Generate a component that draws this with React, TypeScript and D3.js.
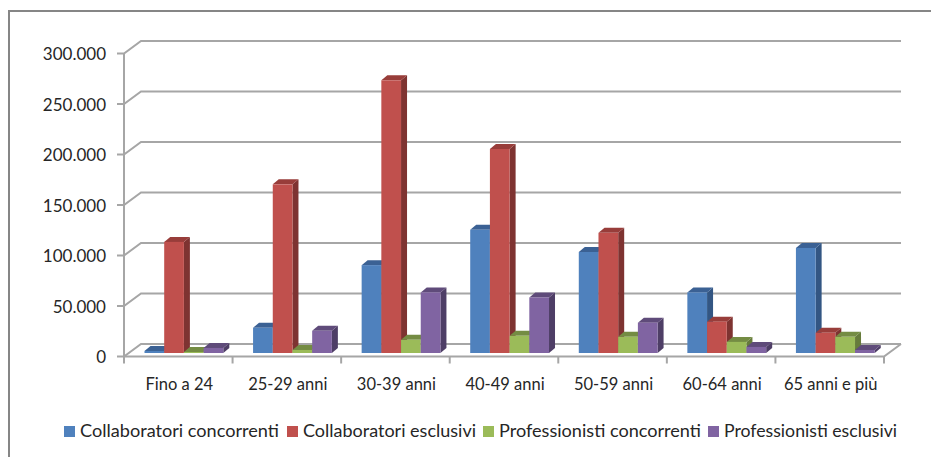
import * as d3 from 'd3';

const categories = ['Fino a 24', '25-29 anni', '30-39 anni', '40-49 anni', '50-59 anni', '60-64 anni', '65 anni e più'];
const seriesNames = ['Collaboratori concorrenti', 'Collaboratori esclusivi', 'Professionisti concorrenti', 'Professionisti esclusivi'];
const collabConcorrenti = [2000, 25000, 87000, 122000, 100000, 60000, 104000];
const collabEsclusivi = [110000, 167000, 270000, 202000, 119000, 31000, 20000];
const profConcorrenti = [1000, 3000, 13000, 17000, 16000, 11000, 16000];
const profEsclusivi = [5000, 22000, 60000, 55000, 30000, 6000, 3000];
const yTicks = [0, 50000, 100000, 150000, 200000, 250000, 300000];

const seriesValues = [collabConcorrenti, collabEsclusivi, profConcorrenti, profEsclusivi];
const faceColors = ['#4f81bd', '#c0504d', '#9bbb59', '#8064a2'];
const topColors = ['#3b6194', '#983d3a', '#748c43', '#5f4b7a'];
const sideColors = ['#335683', '#7e3331', '#667b3b', '#4e3e66'];

const fontFamily = "Lato, 'Liberation Sans', sans-serif";
const labelColor = '#262626';
const gridColor = '#a6a6a6';

// front edge of the floor and offset of the back wall
const frontLeft = 124;
const frontRight = 884;
const frontZero = 356.5;
const frontTop = 53.5;
const wallDx = 17;
const wallDy = -12.5;
// bars stand a little way in from the front edge of the floor
const barDy = -3.5;
const barDepthX = 6;
const barDepthY = -5;

const x = d3.scaleBand<string>().domain(categories).range([frontLeft, frontRight]);
const inner = d3.scaleBand<string>().domain(seriesNames).range([20.5, 99.3]);
const y = d3.scaleLinear().domain([0, 300000]).range([frontZero, frontTop]);

const numberFormat = (v: number) => (v === 0 ? '0' : d3.format(',')(v).replace(/,/g, '.'));

const legendX = [64, 287, 483, 708];
const legendLabelWidth = [199, 173, 202, 173];

export default function App() {
  return (
    <svg
      width={931}
      height={457}
      viewBox="0 0 931 457"
      style={{ position: 'absolute', left: 0, top: 0, background: '#fff', fontFamily }}
    >
      {/* outer frame: only top and left are in the picture */}
      <path d="M9,457 V11 H931" fill="none" stroke="#868686" strokeWidth={2} />

      {/* walls and gridlines */}
      <g fill="none" stroke={gridColor} strokeWidth={2}>
        {yTicks.map((t) => (
          <path
            key={t}
            d={`M${frontLeft - 7},${y(t)} H${frontLeft} L${frontLeft + wallDx},${y(t) + wallDy} H${frontRight + wallDx}`}
          />
        ))}
        <path d={`M${frontLeft},${y(0)} V${y(300000)}`} />
        <path d={`M${frontLeft},${y(0)} H${frontRight} L${frontRight + wallDx},${y(0) + wallDy}`} />
        {[...categories.map((c) => x(c)!), frontRight].map((px) => (
          <path key={px} d={`M${px},${y(0)} V${y(0) + 7}`} />
        ))}
      </g>

      {/* bars */}
      {categories.map((c, ci) =>
        seriesNames.map((s, si) => {
          const v = seriesValues[si][ci];
          const x0 = x(c)! + inner(s)!;
          const w = inner.bandwidth();
          const yTop = y(v) + barDy;
          const yBase = y(0) + barDy;
          return (
            <g key={`${c}-${s}`}>
              <path
                d={`M${x0 + w},${yTop} l${barDepthX},${barDepthY} V${yBase + barDepthY} L${x0 + w},${yBase} Z`}
                fill={sideColors[si]}
              />
              <path
                d={`M${x0},${yTop} l${barDepthX},${barDepthY} h${w} l${-barDepthX},${-barDepthY} Z`}
                fill={topColors[si]}
              />
              <rect x={x0} y={yTop} width={w} height={yBase - yTop} fill={faceColors[si]} />
            </g>
          );
        })
      )}

      {/* y labels */}
      {yTicks.map((t) => (
        <text key={t} x={106} y={y(t) + 1} dy="0.35em" textAnchor="end" fontSize={17} fill={labelColor}>
          {numberFormat(t)}
        </text>
      ))}

      {/* x labels */}
      {categories.map((c) => (
        <text key={c} x={x(c)! + x.bandwidth() / 2 + 1} y={390} textAnchor="middle" fontSize={16.5} fill={labelColor}>
          {c}
        </text>
      ))}

      {/* legend */}
      {seriesNames.map((s, i) => (
        <g key={s}>
          <rect x={legendX[i]} y={426} width={11} height={11} fill={faceColors[i]} />
          <text
            x={legendX[i] + 16}
            y={437}
            fontSize={17}
            fill={labelColor}
            textLength={legendLabelWidth[i]}
            lengthAdjust="spacingAndGlyphs"
          >
            {s}
          </text>
        </g>
      ))}
    </svg>
  );
}
